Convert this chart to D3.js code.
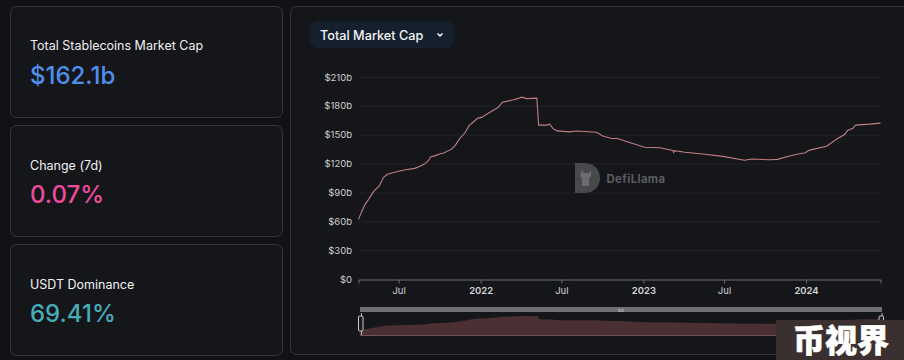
<!DOCTYPE html>
<html><head><meta charset="utf-8">
<script src="https://cdn.jsdelivr.net/npm/d3@7"></script>
<style>
html,body{margin:0;padding:0;background:#111215;}
svg{display:block;font-family:Inter,"Noto Sans",sans-serif;}
</style></head><body>
<svg id="c" width="904" height="360"></svg>
<script>
const dates=["2021-04-02","2021-04-09","2021-04-16","2021-04-25","2021-05-06","2021-05-19","2021-05-28","2021-06-06","2021-06-22","2021-07-01","2021-07-14","2021-08-06","2021-08-17","2021-08-28","2021-09-06","2021-09-11","2021-09-20","2021-10-01","2021-10-10","2021-10-28","2021-11-05","2021-11-15","2021-11-26","2021-12-07","2021-12-15","2021-12-25","2022-01-03","2022-01-21","2022-02-08","2022-02-19","2022-03-14","2022-03-25","2022-04-03","2022-04-15","2022-05-07","2022-05-09","2022-05-11","2022-05-29","2022-06-05","2022-06-12","2022-06-21","2022-07-20","2022-08-04","2022-09-18","2022-10-02","2022-10-22","2022-11-04","2022-12-01","2023-01-04","2023-02-07","2023-03-08","2023-03-10","2023-03-12","2023-04-04","2023-05-14","2023-06-28","2023-08-16","2023-09-01","2023-10-11","2023-10-29","2023-11-25","2023-12-20","2023-12-29","2024-01-09","2024-02-16","2024-03-10","2024-03-28","2024-04-03","2024-04-15","2024-04-21","2024-05-23","2024-06-16"];
const marketCap=[62,70,77,83,91,97,105.7,108.8,111,112,113.3,115,117,119.5,123,127,128,130,131,135,139,146,151.5,160,163,167,168,173,178,183.7,186,187.5,189,187.5,188,175,160,160,161,156.6,154,153,153.8,152.5,148.6,146,146,142,137,136.5,133.7,131.5,133.5,131.7,130,127.5,123.4,124.7,124,124.4,127.9,130.5,131,134,138,145.5,150.4,154.5,156.6,160,161,162];
const yTicks=[0,30,60,90,120,150,180,210];
const xTickDates=["2021-07-01","2022-01-01","2022-07-01","2023-01-01","2023-07-01","2024-01-01"];
const xTickLabels=["Jul","2022","Jul","2023","Jul","2024"];
const cards=[["Total Stablecoins Market Cap","$162.1b","#4f8fea"],["Change (7d)","0.07%","#ed4b9e"],["USDT Dominance","69.41%","#46acb7"]];

const parse=d3.utcParse("%Y-%m-%d");
const series=dates.map((d,i)=>({date:parse(d),value:marketCap[i]}));
const svg=d3.select("#c");
const CARD="#15161a",BORDER="#34363a";

// cards
const cg=svg.selectAll("g.card").data(cards).join("g").attr("class","card").attr("transform",(c,i)=>`translate(10,${6+i*119})`);
cg.append("rect").attr("x",.5).attr("y",.5).attr("width",272).attr("height",111).attr("rx",6).attr("fill",CARD).attr("stroke",BORDER);
cg.append("text").attr("x",20).attr("y",(c,i)=>i?45:44).attr("fill","#f1f1f2").attr("font-size",12.5).text(c=>c[0]);
cg.append("text").attr("x",20).attr("y",78).attr("fill",c=>c[2]).attr("font-size",24).attr("font-weight",500).text(c=>c[1]);

// chart panel
svg.append("rect").attr("x",290.5).attr("y",6.5).attr("width",640).attr("height",348).attr("rx",6).attr("fill",CARD).attr("stroke",BORDER);

// dropdown
svg.append("rect").attr("x",310).attr("y",21).attr("width",144).attr("height",27).attr("rx",8).attr("fill","#15202f");
svg.append("text").attr("x",320).attr("y",40).attr("fill","#f4f5f6").attr("font-size",12.7).attr("font-weight",500).text("Total Market Cap");
svg.append("path").attr("d",d3.line()([[437.5,33.5],[440,36],[442.5,33.5]])).attr("fill","none").attr("stroke","#f4f5f6").attr("stroke-width",1.5);

// main scales
const x=d3.scaleUtc().domain([parse("2021-04-02"),parse("2024-06-16")]).range([358.5,880.5]);
const y=d3.scaleLinear().domain([0,210]).range([279,77]);

// grid + y axis
const yAxis=d3.axisLeft(y).tickValues(yTicks).tickSize(0).tickPadding(7).tickFormat(v=>v===0?"$0":`$${v}b`);
const yg=svg.append("g").attr("transform","translate(359,0)").call(yAxis);
yg.select(".domain").remove();
yg.selectAll("text").attr("fill","#cfd0d2").attr("font-size",9.5).attr("font-family","Inter,sans-serif");
svg.append("g").selectAll("line").data(yTicks.filter(v=>v>0)).join("line")
  .attr("x1",359).attr("x2",881).attr("y1",v=>y(v)+.5).attr("y2",v=>y(v)+.5).attr("stroke","#222327");

// x axis
const xVals=xTickDates.map(parse);
const xAxis=d3.axisBottom(x).tickValues(xVals).tickSize(4).tickPadding(4).tickFormat((d,i)=>xTickLabels[i]);
const xg=svg.append("g").attr("transform","translate(0,279.5)").call(xAxis);
xg.select(".domain").attr("stroke","#6a6c70");
xg.selectAll("line").attr("stroke","#6a6c70");
xg.selectAll("text").attr("fill","#d3d4d6").attr("font-size",9.5).attr("font-family","Inter,sans-serif")
  .attr("font-weight",(d,i)=>i%2?600:400);

// watermark
const wm=svg.append("g");
wm.append("path").attr("d","M575 163h10c11 0 15 9 15 15s-4 15-15 15h-10z").attr("fill","#48494d");
wm.append("path").attr("d","M582 170l2 3h5l2-3v6l-2 2v8h-7v-8l-2-2z").attr("fill","#6b6c6f");
wm.append("text").attr("x",606.5).attr("y",183).attr("fill","#5b5c60").attr("font-size",11.3).attr("font-weight",700).attr("letter-spacing",.4).text("DefiLlama");

// line
const line=d3.line().x(d=>x(d.date)).y(d=>y(d.value));
svg.append("path").datum(series).attr("d",line).attr("fill","none").attr("stroke","#c07f84").attr("stroke-width",1.1);

// slider
svg.append("rect").attr("x",360).attr("y",307).attr("width",522).attr("height",5).attr("fill","#6e6f72");
const y2=d3.scaleLinear().domain([62,189]).range([331,316]);
const area=d3.area().x(d=>x(d.date)+1).y0(335).y1(d=>y2(d.value));
svg.append("path").datum(series).attr("d",area).attr("fill","#4a3033");
svg.append("line").attr("x1",360).attr("x2",882).attr("y1",335.5).attr("y2",335.5).attr("stroke","#6b5558");
[361.5,882].forEach(h=>{
  svg.append("line").attr("x1",h).attr("x2",h).attr("y1",313).attr("y2",335).attr("stroke","#b9b9bb");
  svg.append("rect").attr("x",h-3).attr("y",316).attr("width",4.5).attr("height",15).attr("rx",1).attr("fill","#1c1c20").attr("stroke","#c8c8ca");
});
svg.append("text").attr("x",621).attr("y",311.5).attr("text-anchor","middle").attr("fill","#d8d8da").attr("font-size",5).text("≡≡");

// corner stamp
svg.append("rect").attr("x",776).attr("y",320).attr("width",128).attr("height",40).attr("fill","#3a3030");
svg.append("text").attr("x",841).attr("y",352).attr("text-anchor","middle").attr("fill","#fff").attr("stroke","#fff").attr("stroke-width",.6).attr("font-size",32).attr("font-weight",900).attr("font-family","'Noto Sans CJK SC'").text("币视界");
</script></body></html>
